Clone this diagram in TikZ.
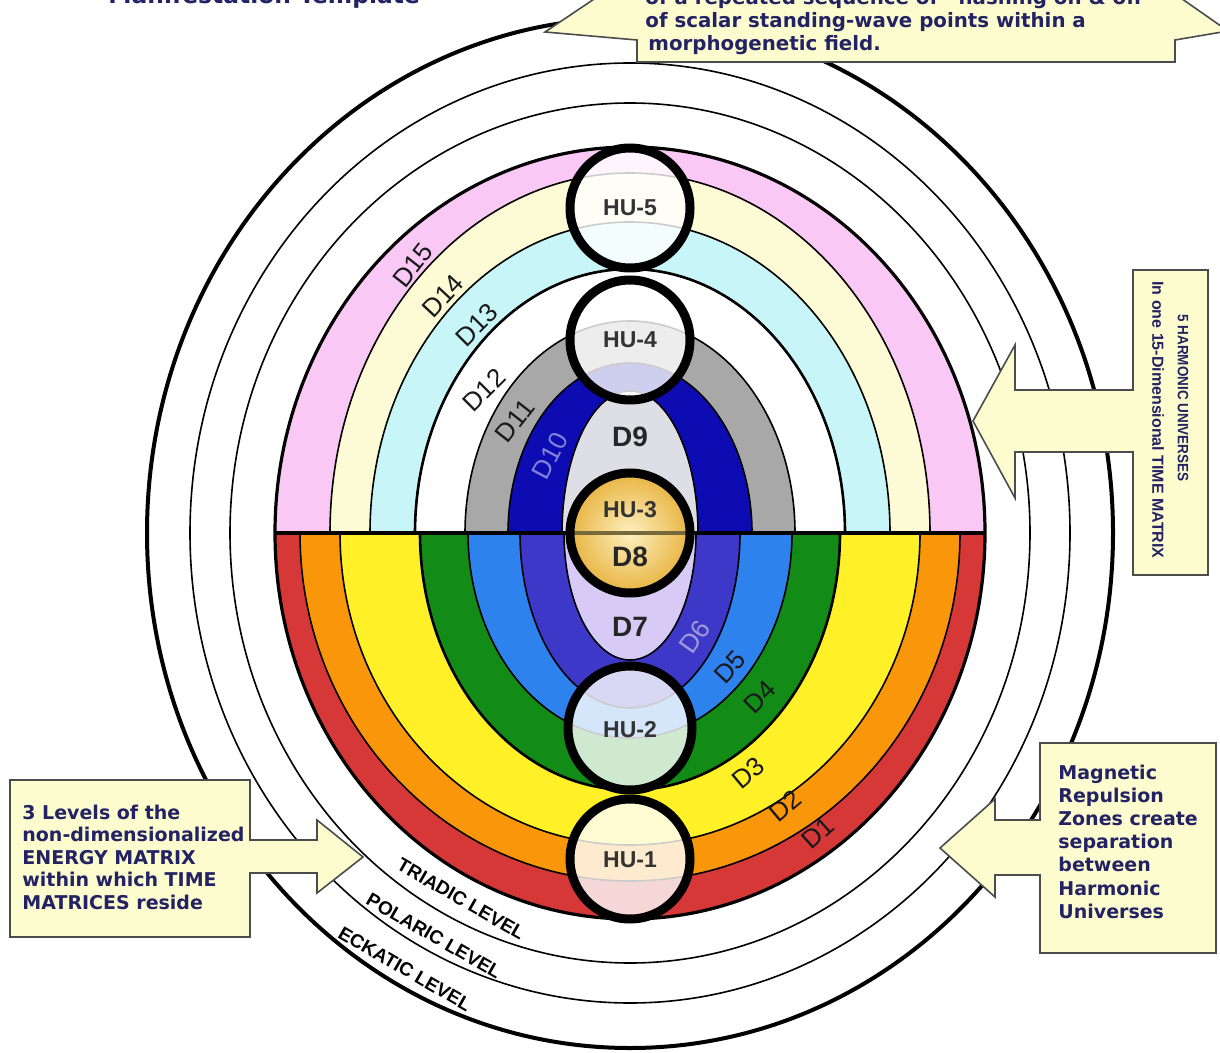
\documentclass[tikz,border=0pt]{standalone}
\usepackage{fontspec}
\setmainfont{Liberation Sans}
\newfontfamily\vfont{DejaVu Sans}
\usetikzlibrary{shadings}
\definecolor{cD15}{RGB}{250,200,245}
\definecolor{cD14}{RGB}{253,250,214}
\definecolor{cD13}{RGB}{200,246,248}
\definecolor{cD11}{RGB}{168,168,168}
\definecolor{cD10}{RGB}{12,12,178}
\definecolor{cD9}{RGB}{222,222,230}
\definecolor{cD1}{RGB}{214,56,56}
\definecolor{cD2}{RGB}{250,150,10}
\definecolor{cD3}{RGB}{255,240,40}
\definecolor{cD4}{RGB}{18,140,22}
\definecolor{cD5}{RGB}{45,130,238}
\definecolor{cD6}{RGB}{62,56,200}
\definecolor{cD7}{RGB}{216,202,246}
\definecolor{goldin}{RGB}{253,240,190}
\definecolor{goldout}{RGB}{232,180,66}
\definecolor{goldline}{RGB}{120,105,60}
\definecolor{callout}{RGB}{253,252,206}
\definecolor{navy}{RGB}{34,34,100}
\definecolor{dtentxt}{RGB}{130,130,215}
\definecolor{dsixtxt}{RGB}{160,155,215}
\begin{document}
\begin{tikzpicture}[x=0.5pt,y=-0.5pt,
  ring/.style={draw=black,line width=0.8pt},
  hu/.style={circle,draw=black,line width=4.5pt,fill=white,fill opacity=0.8,minimum size=60pt,inner sep=0pt},
  dlab/.style={font=\fontsize{13}{14}\selectfont,text=black!90,inner sep=0pt},
  hulab/.style={font=\bfseries\fontsize{11.5}{13}\selectfont,text=black!80,inner sep=0pt},
  dbig/.style={font=\bfseries\fontsize{14}{16}\selectfont,text=black!85,inner sep=0pt},
  lvl/.style={font=\bfseries\fontsize{9.5}{11}\selectfont,inner sep=0pt,rotate=-30},
  calloutbox/.style={draw=black!70,line width=0.8pt,fill=callout},
  ctext/.style={font=\vfont\bfseries\fontsize{9.5}{11}\selectfont,text=navy,inner sep=0pt,anchor=base west},
  ttext/.style={ctext,font=\vfont\bfseries\fontsize{9.9}{11}\selectfont},
  vtext/.style={font=\bfseries\fontsize{7.5}{9}\selectfont,text=navy,inner sep=0pt,rotate=-90}
]
\useasboundingbox (0,0) rectangle (1220,1053);
\clip (0,0) rectangle (1220,1053);
\fill[white] (0,0) rectangle (1220,1053);
\coordinate (c) at (630,533);

% three levels of the energy matrix
\draw[line width=2pt] (c) ellipse [x radius=483, y radius=515];
\draw[line width=0.8pt] (c) ellipse [x radius=440, y radius=470];
\draw[line width=0.8pt] (c) ellipse [x radius=400, y radius=430];

% upper half: D9 - D15
\begin{scope}
\clip (0,0) rectangle (1220,533);
\foreach \rx/\ry/\cl in {355/386/cD15,300/360/cD14,260/311/cD13,215/264/white,165/212/cD11,122/170/cD10,68/142/cD9}
  \path[ring,fill=\cl] (c) ellipse [x radius=\rx, y radius=\ry];
\draw[line width=1.3pt] (c) ellipse [x radius=215, y radius=264];
\end{scope}

% lower half: D1 - D7
\begin{scope}
\clip (0,533) rectangle (1220,1053);
\foreach \rx/\ry/\cl in {355/386/cD1,330/348/cD2,290/312/cD3,210/257/cD4,162/205/cD5,110/175/cD6,66/127/cD7}
  \path[ring,fill=\cl] (c) ellipse [x radius=\rx, y radius=\ry];
\draw[line width=1.3pt] (c) ellipse [x radius=210, y radius=257];
\end{scope}

\draw[line width=1.6pt] (c) ellipse [x radius=355, y radius=386];
\coordinate (dl) at (275,533);
\coordinate (dr) at (985,533);
\draw[line width=2pt] (dl) -- (dr);

% harmonic universes
\node[hu] (hu5) at (630,208) {};
\node[hu] (hu4) at (630,340) {};
\node[circle,minimum size=60pt,inner sep=0pt,inner color=goldin,outer color=goldout] (hu3) at (630,533) {};
\draw[goldline,line width=1.8pt] (hu3.west) -- (hu3.east);
\node[circle,draw=black,line width=4.5pt,minimum size=60pt,inner sep=0pt] (hu3r) at (630,533) {};
\node[hu,minimum size=62pt] (hu2) at (630,728) {};
\node[hu] (hu1) at (630,859) {};

\node[hulab] (t5) at (630,208) {HU-5};
\node[hulab] (t4) at (630,340) {HU-4};
\node[hulab] (t3) at (630,510) {HU-3};
\node[hulab] (t2) at (630,730) {HU-2};
\node[hulab] (t1) at (630,860) {HU-1};

% dimension labels
\node[dlab,rotate=52] (l15) at (413,265) {D15};
\node[dlab,rotate=47] (l14) at (443,296) {D14};
\node[dlab,rotate=45] (l13) at (477,325) {D13};
\node[dlab,rotate=45] (l12) at (484,390) {D12};
\node[dlab,rotate=52] (l11) at (515,421) {D11};
\node[dlab,rotate=62,text=dtentxt] (l10) at (550,456) {D10};
\node[dbig] (l9) at (630,437) {D9};
\node[dbig] (l8) at (630,557) {D8};
\node[dbig] (l7) at (630,627) {D7};
\node[dlab,rotate=55,text=dsixtxt] (l6) at (695,637) {D6};
\node[dlab,rotate=47] (l5) at (730,667) {D5};
\node[dlab,rotate=45] (l4) at (760,697) {D4};
\node[dlab,rotate=40] (l3) at (748,773) {D3};
\node[dlab,rotate=40] (l2) at (785,806) {D2};
\node[dlab,rotate=42] (l1) at (818,833) {D1};

% level labels
\node[lvl] (triadic) at (461,899) {TRIADIC LEVEL};
\node[lvl] (polaric) at (434,936) {POLARIC LEVEL};
\node[lvl] (eckatic) at (405,969) {ECKATIC LEVEL};

% title (cut by the top edge)
\node[font=\vfont\bfseries\fontsize{11.7}{13}\selectfont,text=navy,inner sep=0pt,anchor=base west] (title) at (108,4) {Manifestation Template};

% top callout
\draw[calloutbox] (545,32) -- (637,40) -- (637,62) -- (1175,62) -- (1175,40) -- (1228,31) -- (1175,-6) -- (1175,-40) -- (637,-40) -- (637,-15) -- (615,-15) -- cycle;
\node[ttext] (top1) at (645,5) {of a repeated sequence of “flashing on \& off”};
\node[ttext] (top2) at (645,28) {of scalar standing-wave points within a};
\node[ttext] (top3) at (648,51) {morphogenetic field.};

% right vertical callout
\draw[calloutbox] (1133,270) -- (1208,270) -- (1208,575) -- (1133,575) -- (1133,452) -- (1015,452) -- (1015,498) -- (973,421) -- (1015,345) -- (1015,390) -- (1133,390) -- cycle;
\node[vtext] (v1) at (1183,398) {\scalebox{0.9}[1]{5 HARMONIC UNIVERSES}};
\node[vtext,font=\bfseries\fontsize{8}{9}\selectfont] (v2) at (1158,420) {In one 15-Dimensional TIME MATRIX};

% left callout
\draw[calloutbox] (10,780) -- (250,780) -- (250,840) -- (317,840) -- (317,820) -- (363,857) -- (317,893) -- (317,873) -- (250,873) -- (250,937) -- (10,937) -- cycle;
\node[ctext] (a1) at (22,819) {3 Levels of the};
\node[ctext] (a2) at (22,841.5) {non-dimensionalized};
\node[ctext] (a3) at (22,864) {ENERGY MATRIX};
\node[ctext] (a4) at (22,886.5) {within which TIME};
\node[ctext] (a5) at (22,909) {MATRICES reside};

% right bottom callout
\draw[calloutbox] (1040,743) -- (1216,743) -- (1216,953) -- (1040,953) -- (1040,875) -- (995,875) -- (995,897) -- (940,848) -- (995,799) -- (995,820) -- (1040,820) -- cycle;
\node[ctext] (b1) at (1058,779) {Magnetic};
\node[ctext] (b2) at (1058,802.2) {Repulsion};
\node[ctext] (b3) at (1058,825.4) {Zones create};
\node[ctext] (b4) at (1058,848.6) {separation};
\node[ctext] (b5) at (1058,871.8) {between};
\node[ctext] (b6) at (1058,895) {Harmonic};
\node[ctext] (b7) at (1058,918.2) {Universes};
\end{tikzpicture}
\end{document}
